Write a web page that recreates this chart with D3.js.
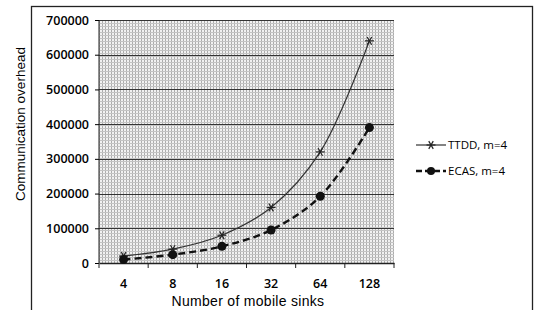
<!DOCTYPE html>
<html>
<head>
<meta charset="utf-8">
<script src="https://cdn.jsdelivr.net/npm/d3@7"></script>
<style>
  body { margin: 0; background: #fff; }
  text { font-family: 'Open Sans', sans-serif; fill: #000; }
</style>
</head>
<body>
<div id="chart"></div>
<script>
'use strict';

var categories = [ '4', '8', '16', '32', '64', '128' ];
var ttddValues = [ 20000, 40000, 80000, 160000, 320000, 640000 ];
var ecasValues = [ 10000, 24000, 48000, 95000, 192000, 390000 ];
var yTicks = [ 0, 100000, 200000, 300000, 400000, 500000, 600000, 700000 ];

var baseWidth = 536,
    baseHeight = 310,
    margin = { top: 20, right: 142, bottom: 47, left: 99 };

var width = baseWidth - margin.left - margin.right,
    height = baseHeight - margin.top - margin.bottom;

var svg = d3.select( '#chart' )
  .append( 'svg' )
    .attr( 'width', baseWidth )
    .attr( 'height', baseHeight );

// halftone-ish background for the plot
var defs = svg.append( 'defs' );
var pat = defs.append( 'pattern' )
    .attr( 'id', 'dots' )
    .attr( 'width', 3 )
    .attr( 'height', 3 )
    .attr( 'patternUnits', 'userSpaceOnUse' );
pat.append( 'rect' ).attr( 'width', 3 ).attr( 'height', 3 ).attr( 'fill', '#f2f2f2' );
pat.append( 'rect' ).attr( 'width', 1 ).attr( 'height', 3 ).attr( 'fill', '#adadad' );
pat.append( 'rect' ).attr( 'width', 3 ).attr( 'height', 1 ).attr( 'fill', '#c4c4c4' );

// outer chart border
svg.append( 'rect' )
    .attr( 'x', 31.5 )
    .attr( 'y', 6.5 )
    .attr( 'width', 501 )
    .attr( 'height', 310 )
    .attr( 'fill', 'none' )
    .attr( 'stroke', '#222' )
    .attr( 'stroke-width', 1.3 );

var g = svg.append( 'g' )
    .attr( 'transform', 'translate( ' + margin.left + ',' + margin.top + ' )' );

var x = d3.scaleBand()
    .domain( categories )
    .range( [ 0, width ] );

var y = d3.scaleLinear()
    .domain( [ 0, 700000 ] )
    .range( [ height, 0 ] );

g.append( 'rect' )
    .attr( 'width', width )
    .attr( 'height', height )
    .attr( 'fill', 'url(#dots)' );

// gridlines
g.selectAll( '.grid' )
    .data( yTicks.slice( 1 ) )
  .enter().append( 'line' )
    .attr( 'class', 'grid' )
    .attr( 'x1', 0 )
    .attr( 'x2', width )
    .attr( 'y1', function( d ) { return Math.round( y( d ) ) + 0.5; } )
    .attr( 'y2', function( d ) { return Math.round( y( d ) ) + 0.5; } )
    .attr( 'stroke', '#333' )
    .attr( 'stroke-width', 1.2 );

// y axis
var yAxis = g.append( 'g' )
    .attr( 'class', 'y axis' )
    .call( d3.axisLeft( y ).tickValues( yTicks ).tickSize( 4 ).tickPadding( 6 )
      .tickFormat( d3.format( 'd' ) ) );
yAxis.select( '.domain' ).attr( 'stroke', '#222' ).attr( 'd', 'M0,0V' + height );
yAxis.selectAll( 'text' ).style( 'font-size', '12.5px' ).style( 'font-weight', 600 );

// x axis with ticks at band edges
var xAxis = g.append( 'g' )
    .attr( 'class', 'x axis' )
    .attr( 'transform', 'translate( 0,' + height + ' )' )
    .call( d3.axisBottom( x ).tickSize( 0 ).tickPadding( 16 ) );
xAxis.select( '.domain' ).attr( 'stroke', '#222' ).attr( 'stroke-width', 1.3 );
xAxis.selectAll( 'text' ).style( 'font-size', '12.5px' ).style( 'font-weight', 600 );

g.selectAll( '.xtick' )
    .data( categories.concat( [ 'end' ] ) )
  .enter().append( 'line' )
    .attr( 'class', 'xtick' )
    .attr( 'x1', function( d, i ) { return i * x.step(); } )
    .attr( 'x2', function( d, i ) { return i * x.step(); } )
    .attr( 'y1', height )
    .attr( 'y2', height + 5 )
    .attr( 'stroke', '#222' );

// axis titles
svg.append( 'text' )
    .attr( 'transform', 'rotate(-90)' )
    .attr( 'text-anchor', 'middle' )
    .attr( 'x', -124 )
    .attr( 'y', 25 )
    .style( 'font-family', "'Liberation Sans', Arial, sans-serif" )
    .style( 'font-size', '13.5px' )
    .text( 'Communication overhead' );

svg.append( 'text' )
    .attr( 'text-anchor', 'middle' )
    .attr( 'x', 248 )
    .attr( 'y', 306 )
    .style( 'font-family', "'Liberation Sans', Arial, sans-serif" )
    .style( 'font-size', '14px' )
    .style( 'letter-spacing', '0.3px' )
    .text( 'Number of mobile sinks' );

// lines
var line = d3.line()
    .x( function( d, i ) { return x( categories[ i ] ) + x.bandwidth() / 2; } )
    .y( function( d ) { return y( d ); } )
    .curve( d3.curveCatmullRom.alpha( 0.5 ) );

g.append( 'path' )
    .datum( ttddValues )
    .attr( 'd', line )
    .attr( 'fill', 'none' )
    .attr( 'stroke', '#333' )
    .attr( 'stroke-width', 1.2 );

g.append( 'path' )
    .datum( ecasValues )
    .attr( 'd', line )
    .attr( 'fill', 'none' )
    .attr( 'stroke', '#111' )
    .attr( 'stroke-width', 2.4 )
    .attr( 'stroke-dasharray', '7,4' );

function star( sel, cx, cy ) {
  var r = 4.5;
  [ 0, 60, 120 ].forEach( function( a ) {
    var rad = a * Math.PI / 180;
    sel.append( 'line' )
        .attr( 'x1', cx - r * Math.cos( rad ) )
        .attr( 'y1', cy - r * Math.sin( rad ) )
        .attr( 'x2', cx + r * Math.cos( rad ) )
        .attr( 'y2', cy + r * Math.sin( rad ) )
        .attr( 'stroke', '#222' )
        .attr( 'stroke-width', 1.2 );
  } );
}

ttddValues.forEach( function( d, i ) {
  star( g, x( categories[ i ] ) + x.bandwidth() / 2, y( d ) );
} );

g.selectAll( '.ecas-dot' )
    .data( ecasValues )
  .enter().append( 'circle' )
    .attr( 'class', 'ecas-dot' )
    .attr( 'cx', function( d, i ) { return x( categories[ i ] ) + x.bandwidth() / 2; } )
    .attr( 'cy', function( d ) { return y( d ); } )
    .attr( 'r', 4.5 )
    .attr( 'fill', '#111' );

// legend
var legend = svg.append( 'g' );
legend.append( 'line' )
    .attr( 'x1', 416 ).attr( 'x2', 446 )
    .attr( 'y1', 145 ).attr( 'y2', 145 )
    .attr( 'stroke', '#333' ).attr( 'stroke-width', 1.2 );
star( legend, 431, 145 );
legend.append( 'text' )
    .attr( 'x', 448 ).attr( 'y', 149 )
    .style( 'font-size', '11.5px' )
    .text( 'TTDD, m=4' );

legend.append( 'line' )
    .attr( 'x1', 416 ).attr( 'x2', 446 )
    .attr( 'y1', 171 ).attr( 'y2', 171 )
    .attr( 'stroke', '#111' ).attr( 'stroke-width', 2.4 )
    .attr( 'stroke-dasharray', '6,3' );
legend.append( 'circle' )
    .attr( 'cx', 431 ).attr( 'cy', 171 ).attr( 'r', 4 ).attr( 'fill', '#111' );
legend.append( 'text' )
    .attr( 'x', 448 ).attr( 'y', 175 )
    .style( 'font-size', '11.5px' )
    .text( 'ECAS, m=4' );
</script>
</body>
</html>
